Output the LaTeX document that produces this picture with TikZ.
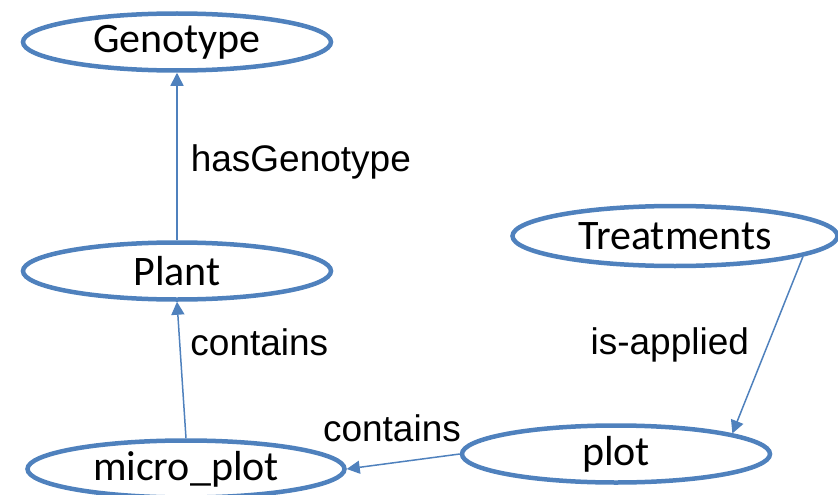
\documentclass[tikz,border=0pt]{standalone}
\usepackage{fontspec}
\setmainfont{Carlito}
\newfontfamily\edgefont{Liberation Sans}
\usetikzlibrary{arrows.meta,shapes.geometric}
\definecolor{classblue}{RGB}{79,129,189}

\begin{document}
\begin{tikzpicture}[x=1pt,y=-1pt,
  class/.style={ellipse,draw=classblue,line width=4.5pt,inner sep=0pt,
    minimum width=308pt,minimum height=57pt,font=\fontsize{42}{46}\selectfont},
  rel/.style={draw=classblue,line width=1.5pt,-{Triangle[length=13pt,width=13pt]}},
  lbl/.style={font=\edgefont\fontsize{37}{40}\selectfont,inner sep=2pt}]

\useasboundingbox (0,0) rectangle (838,495);

% Classes
\node[class] (genotype) at (177,42) {Genotype};
\node[class] (plant) at (177,271) {Plant};
\node[class,minimum width=317pt] (micro) at (186,469) {micro\_plot};
\node[class] (plot) at (616,454) {plot};
\node[class,minimum width=325pt,minimum height=60pt] (treat) at (675,236) {Treatments};

% Relations
\draw[rel] (plant) -- node[lbl,right=11pt,yshift=-5pt] {hasGenotype} (genotype);
\draw[rel] (micro.north) -- node[lbl,right=8pt,pos=0.7] {contains} (plant.south);
\draw[rel] (plot.west) -- node[lbl,above=18pt,pos=0.6] {contains} (micro.east);
\draw[rel] (treat.-9) -- node[lbl,left=16pt] {is-applied} (plot.10);

\end{tikzpicture}
\end{document}
